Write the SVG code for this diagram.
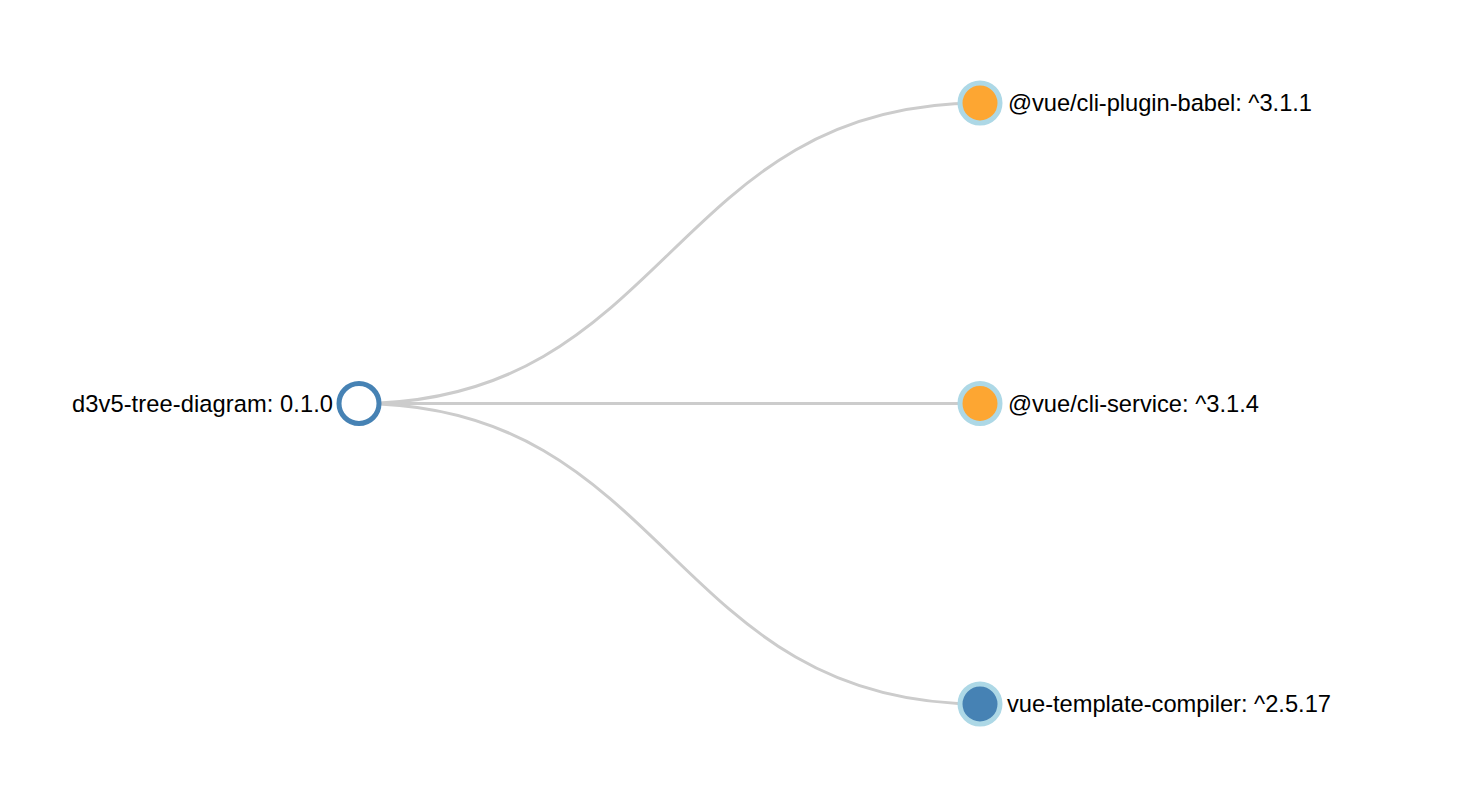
<svg xmlns="http://www.w3.org/2000/svg" width="1484" height="808" viewBox="0 0 1484 808">
<style>
.link{fill:none;stroke:#cccccc;stroke-width:3}
.node circle{stroke-width:5}
.node text{font-family:"Liberation Sans",Arial,Helvetica,sans-serif;font-size:23.7px;fill:#000}
.root circle{fill:#ffffff;stroke:#4682b4}
.leaf circle{stroke:#add8e6}
.orange circle{fill:#fda632}
.blue circle{fill:#4682b4}
</style>
<rect width="1484" height="808" fill="#ffffff"/>
<g id="links">
<path class="link" d="M359,403.5C669.5,403.5 669.5,103 980,103"/>
<path class="link" d="M359,403.5C669.5,403.5 669.5,403.5 980,403.5"/>
<path class="link" d="M359,403.5C669.5,403.5 669.5,704 980,704"/>
</g>
<g id="node-root" class="node root">
<circle cx="359" cy="403.5" r="20"/>
<text x="333" y="411.5" text-anchor="end" textLength="261" lengthAdjust="spacing">d3v5-tree-diagram: 0.1.0</text>
</g>
<g id="node-babel" class="node leaf orange">
<circle cx="980" cy="103" r="20"/>
<text x="1008" y="111" textLength="304" lengthAdjust="spacing">@vue/cli-plugin-babel: ^3.1.1</text>
</g>
<g id="node-service" class="node leaf orange">
<circle cx="980" cy="403.5" r="20"/>
<text x="1008" y="411.5" textLength="251" lengthAdjust="spacing">@vue/cli-service: ^3.1.4</text>
</g>
<g id="node-compiler" class="node leaf blue">
<circle cx="980" cy="704" r="20"/>
<text x="1007" y="712" textLength="324" lengthAdjust="spacing">vue-template-compiler: ^2.5.17</text>
</g>
</svg>
